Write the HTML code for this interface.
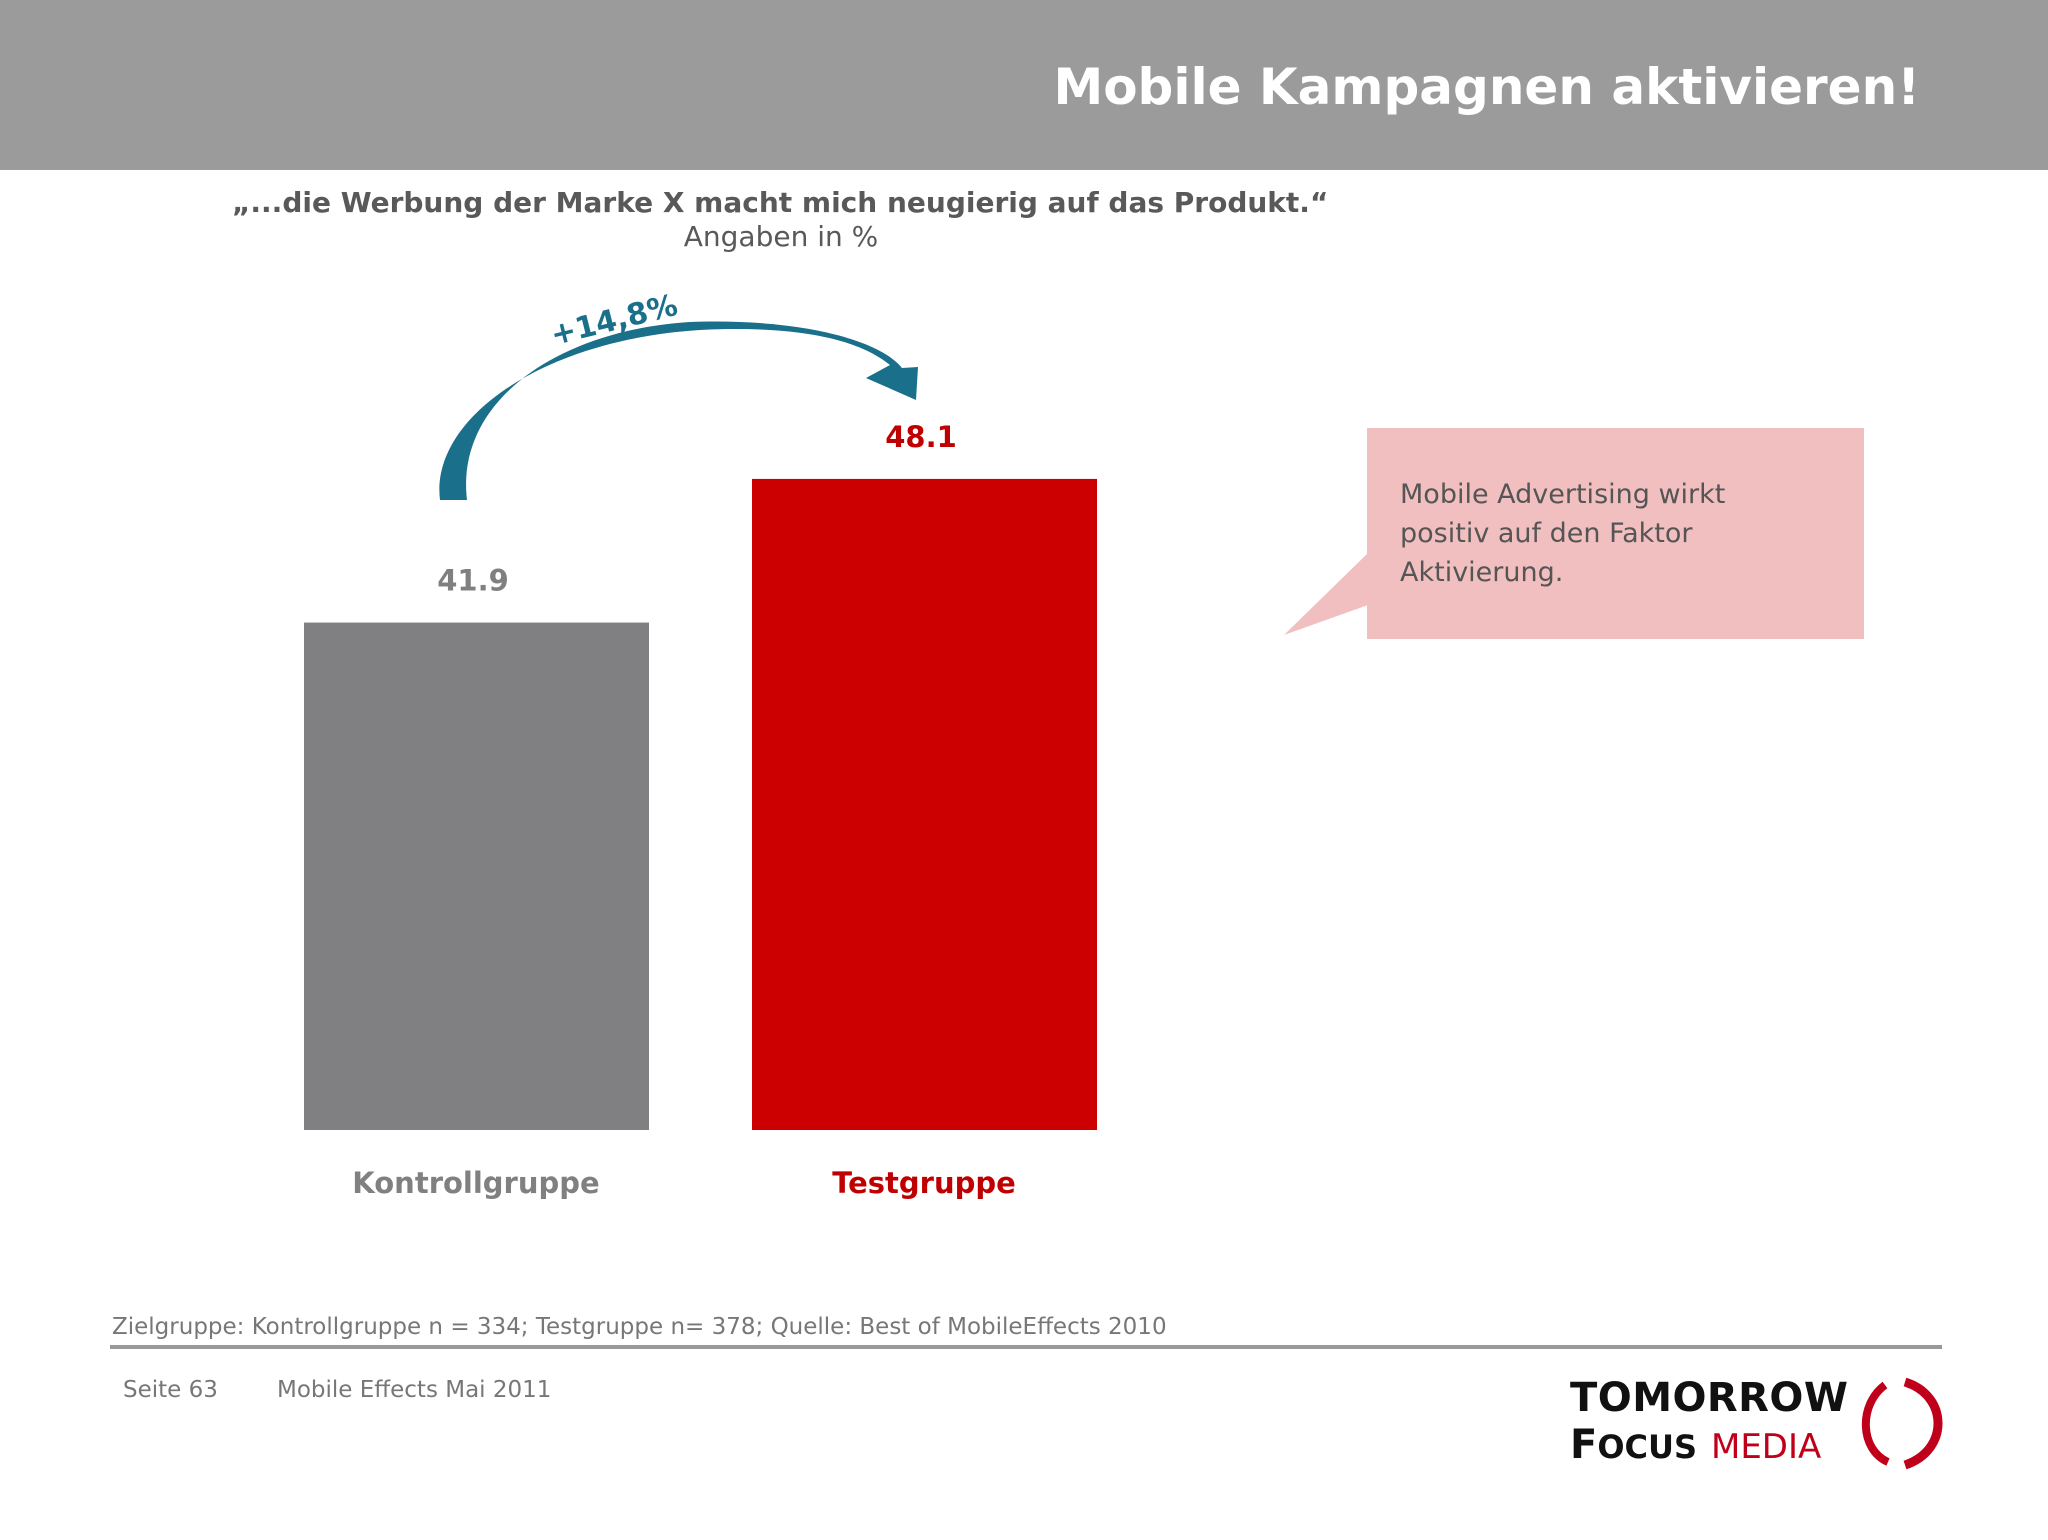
<!DOCTYPE html>
<html><head><meta charset="utf-8"><style>
body{margin:0;width:2048px;height:1536px;background:#fff;position:relative;overflow:hidden;font-family:"DejaVu Sans","Liberation Sans",sans-serif}
</style></head><body>
<svg width="2048" height="1536" viewBox="0 0 2048 1536" id="s">
<rect x="0" y="0" width="2048" height="170" fill="#9b9b9b"/>
<text x="1920" y="104" text-anchor="end" font-size="50" font-weight="bold" fill="#fff">Mobile Kampagnen aktivieren!</text>
<text x="232" y="212" font-size="28" font-weight="bold" fill="#595959">„...die Werbung der Marke X macht mich neugierig auf das Produkt.“</text>
<text x="781" y="246" text-anchor="middle" font-size="28" fill="#595959">Angaben in %</text>
<g id="bars"></g>
<path d="M440,500 C430,420 540,340 700,330 C800,325 860,340 890,365 L866,378 L916,400 L918,367 L902,368 C880,340 800,318 690,322 C560,330 455,400 467,500 Z" fill="#1a6f8a"/>
<text x="614" y="330" text-anchor="middle" font-size="30" font-weight="bold" fill="#1a6f8a" transform="rotate(-14 614 320)">+14,8%</text>
<rect x="1367" y="428" width="497" height="211" fill="#f2bfc0"/>
<polygon points="1368,553 1284,635 1368,605" fill="#f2bfc0"/>
<g font-size="27" fill="#555">
<text x="1400" y="503">Mobile Advertising wirkt</text>
<text x="1400" y="542">positiv auf den Faktor</text>
<text x="1400" y="581">Aktivierung.</text></g>
<text x="112" y="1334" font-size="23" fill="#777">Zielgruppe: Kontrollgruppe n = 334; Testgruppe n= 378; Quelle: Best of MobileEffects 2010</text>
<rect x="110" y="1345" width="1832" height="4" fill="#999"/>
<text x="123" y="1397" font-size="23" fill="#777">Seite 63</text>
<text x="277" y="1397" font-size="23" fill="#777">Mobile Effects Mai 2011</text>
<g>
<text x="1570" y="1411" font-size="40" font-weight="bold" fill="#111" textLength="278">TOMORROW</text>
<text x="1570" y="1458" font-size="40" font-weight="bold" fill="#111">F<tspan font-size="32">OCUS</tspan> <tspan fill="#c0001a" font-weight="normal" font-size="34">MEDIA</tspan></text>
<path d="M1885,1385 C1858,1405 1860,1450 1888,1462" stroke="#c0001a" stroke-width="8" fill="none"/>
<path d="M1905,1382 C1948,1395 1950,1450 1905,1465" stroke="#c0001a" stroke-width="9" fill="none"/>
</g>
</svg>
<script>
const categories=["Kontrollgruppe","Testgruppe"];
const values=[41.9,48.1];
const colors=["#807f81","#cc0000"];
const labelColors=["#808080","#c00000"];
const yMin=20, baseY=1130, pxPerUnit=23.17;
function y(v){return baseY-(v-yMin)*pxPerUnit;}
function xCenter(i){return 476+i*448;}
const g=document.getElementById('bars');const NS="http://www.w3.org/2000/svg";
values.forEach((v,i)=>{
 const r=document.createElementNS(NS,'rect');
 
 
 r.setAttribute('x',xCenter(i)-172);r.setAttribute('width',345);
 r.setAttribute('y',y(v));r.setAttribute('height',baseY-y(v));r.setAttribute('fill',colors[i]);g.appendChild(r);
 const t=document.createElementNS(NS,'text');
 
 
 t.setAttribute('x',xCenter(i)-3);t.setAttribute('y',y(v)-32);t.setAttribute('text-anchor','middle');
 t.setAttribute('font-size','29');t.setAttribute('font-weight','bold');t.setAttribute('fill',labelColors[i]);
 t.textContent=v.toFixed(1);g.appendChild(t);
 const c=document.createElementNS(NS,'text');
 
 
 c.setAttribute('x',xCenter(i));c.setAttribute('y',1193);c.setAttribute('text-anchor','middle');
 c.setAttribute('font-size','29');c.setAttribute('font-weight','bold');c.setAttribute('fill',labelColors[i]);
 c.textContent=categories[i];g.appendChild(c);
});
</script>
</body></html>
